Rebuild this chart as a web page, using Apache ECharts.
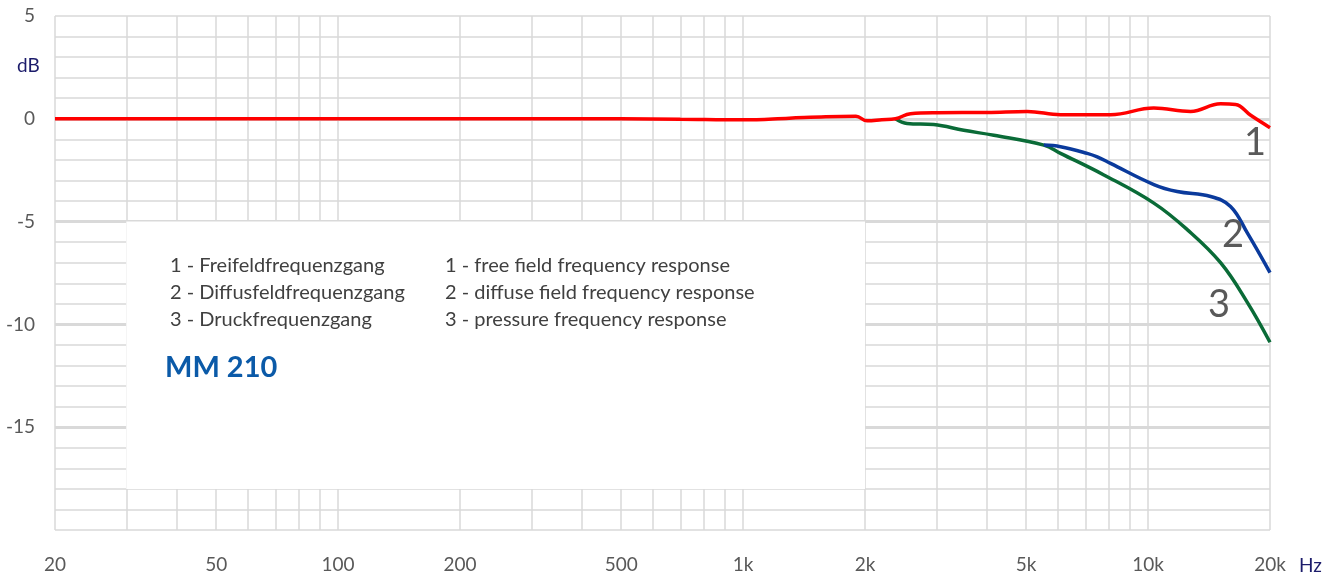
<!DOCTYPE html>
<html>
<head>
<meta charset="utf-8">
<script src="https://cdn.jsdelivr.net/npm/echarts@6/dist/echarts.min.js"></script>
<style>
  html, body { margin: 0; padding: 0; background: #fff; }
  #grafico { width: 1325px; height: 574px; }
</style>
</head>
<body>
<div id="grafico"></div>
<script>
// Frecuencias (Hz) y respuesta (dB)
var freqFreifeld = [20, 100, 300, 500, 700, 1000, 1300, 1600, 1900, 2024, 2200, 2378, 2590, 3014, 4006, 5030, 6078, 8077, 10332, 12734, 15100, 16445, 17920, 20000];
var dbFreifeld   = [0, 0, 0, 0, -0.02, -0.05, 0.03, 0.1, 0.12, -0.1, -0.05, 0, 0.25, 0.3, 0.31, 0.36, 0.2, 0.2, 0.52, 0.36, 0.73, 0.7, 0.17, -0.43];

var freqDiffus = [5528, 6078, 7076, 7490, 8077, 10332, 11800, 14270, 15980, 17580, 20000];
var dbDiffus   = [-1.28, -1.36, -1.68, -1.85, -2.17, -3.2, -3.54, -3.78, -4.26, -5.55, -7.48];

var freqDruck = [2378, 2541, 2956, 3506, 4160, 5528, 6078, 7777, 10332, 12494, 15100, 17580, 20000];
var dbDruck   = [0, -0.23, -0.28, -0.56, -0.8, -1.28, -1.68, -2.73, -4.1, -5.39, -7.0, -8.93, -10.87];

var xGridValues = [20, 30, 40, 50, 60, 70, 80, 90, 100, 200, 300, 400, 500, 600, 700, 800, 900,
  1000, 2000, 3000, 4000, 5000, 6000, 7000, 8000, 9000, 10000, 20000];
var xLabelValues = [20, 50, 100, 200, 500, 1000, 2000, 5000, 10000, 20000];
var yLabelValues = [5, 0, -5, -10, -15];
var yMajorValues = [0, -5, -10, -15];

function pares(xs, ys) {
  var out = [];
  for (var i = 0; i < xs.length; i++) {
    out.push([xs[i], ys[i]]);
  }
  return out;
}

var fuente = "Lato, 'Open Sans', sans-serif";
var gris = "#d9d9d9";

var option = {
  animation: false,
  grid: { left: 55, right: 55, top: 16, bottom: 42 },
  xAxis: {
    type: "log",
    logBase: 10,
    min: 20,
    max: 20000,
    axisLine: { show: false },
    axisTick: { show: false, customValues: xGridValues },
    splitLine: { show: true, lineStyle: { color: gris, width: 1.5 } },
    axisLabel: {
      customValues: xLabelValues,
      margin: 25,
      color: "#595959",
      fontFamily: fuente,
      fontSize: 19,
      formatter: function (v) {
        return v >= 1000 ? (v / 1000) + "k" : String(v);
      },
    },
  },
  yAxis: [
    {
      type: "value",
      min: -20,
      max: 5,
      interval: 1,
      axisLine: { show: false },
      axisTick: { show: false },
      splitLine: { show: true, lineStyle: { color: gris, width: 1.5 } },
      axisLabel: {
        customValues: yLabelValues,
        margin: 20,
        color: "#595959",
        fontFamily: fuente,
        fontSize: 19,
      },
    },
    {
      type: "value",
      min: -20,
      max: 5,
      position: "left",
      axisLine: { show: false },
      axisLabel: { show: false },
      axisTick: { show: false, customValues: yMajorValues },
      splitLine: { show: true, lineStyle: { color: gris, width: 3 } },
    },
  ],
  series: [
    {
      name: "3",
      type: "line",
      smooth: 0.4,
      symbol: "none",
      data: pares(freqDruck, dbDruck),
      lineStyle: { color: "#0a6b37", width: 3.5 },
      markArea: {
        silent: true,
        itemStyle: { color: "#ffffff", opacity: 1 },
        data: [[{ coord: [30, -5] }, { coord: [2000, -18] }]],
      },
    },
    {
      name: "2",
      type: "line",
      smooth: 0.4,
      symbol: "none",
      data: pares(freqDiffus, dbDiffus),
      lineStyle: { color: "#0a3a9c", width: 3.5 },
    },
    {
      name: "1",
      type: "line",
      smooth: 0.4,
      symbol: "none",
      data: pares(freqFreifeld, dbFreifeld),
      lineStyle: { color: "#ff0000", width: 3.5 },
    },
  ],
  graphic: {
    elements: [
      { type: "text", z: 100, left: 17, top: 56, style: { text: "dB", fontFamily: fuente, fontSize: 19, fill: "#1c1c6b" } },
      { type: "text", z: 100, left: 1299, top: 556, style: { text: "Hz", fontFamily: fuente, fontSize: 19, fill: "#1c1c6b" } },
      { type: "text", z: 100, left: 170, top: 252, style: { text: "1 - Freifeldfrequenzgang\n2 - Diffusfeldfrequenzgang\n3 - Druckfrequenzgang", fontFamily: fuente, fontSize: 20, lineHeight: 27, fill: "#404040" } },
      { type: "text", z: 100, left: 445, top: 252, style: { text: "1 - free field frequency response\n2 - diffuse field frequency response\n3 - pressure frequency response", fontFamily: fuente, fontSize: 20, lineHeight: 27, fill: "#404040" } },
      { type: "text", z: 100, left: 165, top: 353, style: { text: "MM 210", fontFamily: fuente, fontSize: 29, fontWeight: "bold", fill: "#0b5aa8" } },
      { type: "text", z: 100, left: 1244, top: 124, style: { text: "1", fontFamily: fuente, fontSize: 38, fill: "#595959" } },
      { type: "text", z: 100, left: 1222, top: 216, style: { text: "2", fontFamily: fuente, fontSize: 38, fill: "#595959" } },
      { type: "text", z: 100, left: 1208, top: 286, style: { text: "3", fontFamily: fuente, fontSize: 38, fill: "#595959" } },
    ],
  },
};

var chart = echarts.init(document.getElementById("grafico"));
chart.setOption(option);
</script>
</body>
</html>
